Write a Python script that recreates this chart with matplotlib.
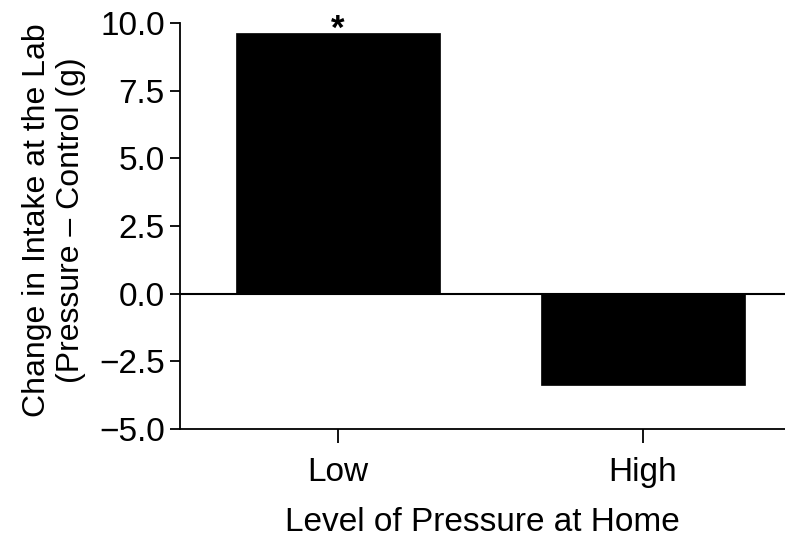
import matplotlib
matplotlib.use("Agg")
import matplotlib.pyplot as plt

categories = ["Low", "High"]
values = [9.62, -3.36]
y_ticks = [-5.0, -2.5, 0.0, 2.5, 5.0, 7.5, 10.0]
y_tick_labels = ["\u22125.0", "\u22122.5", "0.0", "2.5", "5.0", "7.5", "10.0"]
sig_marks = ["*", ""]

plt.rcParams['font.family'] = ['Liberation Sans', 'DejaVu Sans']

fig = plt.figure(figsize=(7.85, 5.42), dpi=100)
ax = fig.add_axes([0.2293, 0.2085, 0.7707, 0.7491])

x = list(range(len(categories)))
ax.bar(x, values, width=0.67, color="black", edgecolor="black", linewidth=0.5)
ax.axhline(0, color="black", linewidth=1.5, zorder=3)

for xi, v, m in zip(x, values, sig_marks):
    if m:
        ax.text(xi, v - 0.22, m, ha="center", va="baseline", fontsize=25,
                fontweight="bold", clip_on=False)

ax.set_xlim(-0.518, 1.466)
ax.set_ylim(-5, 10)
ax.set_yticks(y_ticks)
ax.set_yticklabels(y_tick_labels)
ax.set_xticks(x)
ax.set_xticklabels(categories)

for s in ["top", "right"]:
    ax.spines[s].set_visible(False)
for s in ["left", "bottom"]:
    ax.spines[s].set_linewidth(1.3)

ax.tick_params(axis="y", length=7, width=1.3, labelsize=24, pad=4)
ax.tick_params(axis="x", length=10, width=1.3, labelsize=24, pad=10)

ax.set_ylabel("Change in Intake at the Lab\n(Pressure \u2013 Control (g)", fontsize=23, linespacing=1.2, labelpad=8)
ax.yaxis.set_label_coords(-0.155, 0.515)
ax.set_xlabel("Level of Pressure at Home", fontsize=24, labelpad=14)

fig.savefig("out.png", dpi=100)
